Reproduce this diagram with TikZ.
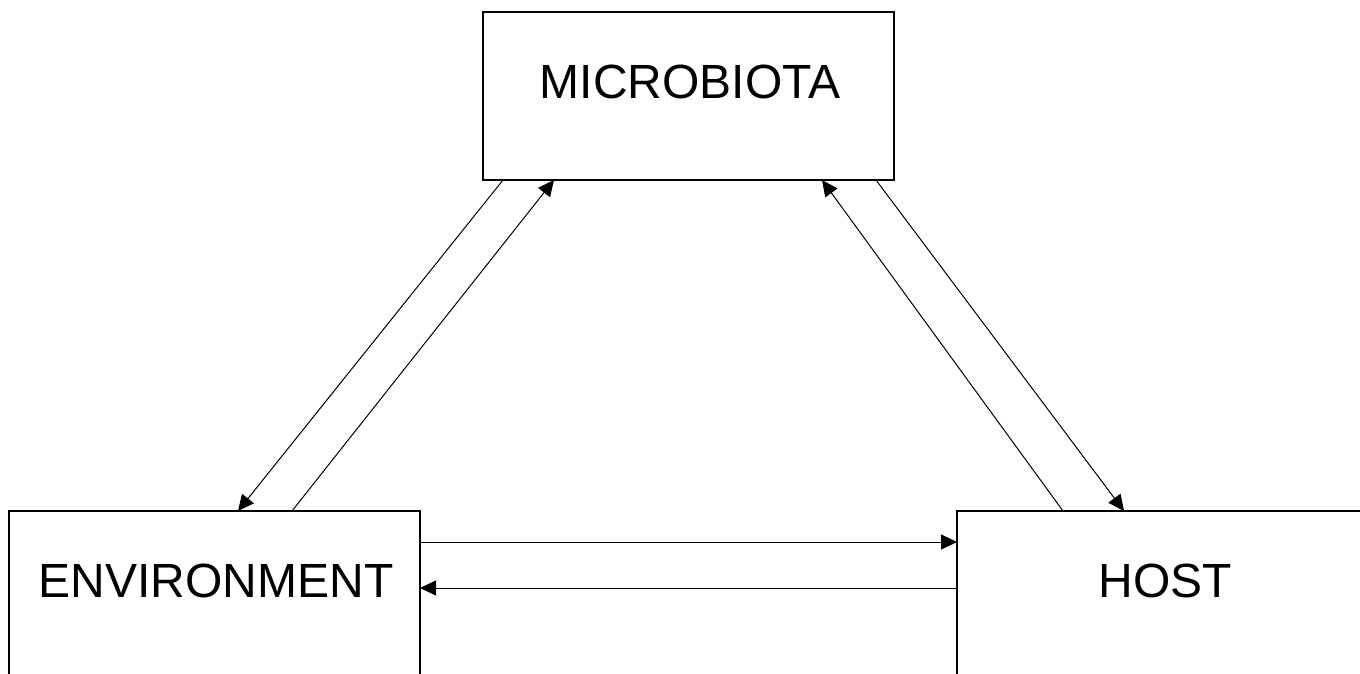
\documentclass[tikz,border=0pt]{standalone}
\usepackage{fontspec}
\setmainfont{Liberation Sans}
\usetikzlibrary{arrows.meta}
\begin{document}
\begin{tikzpicture}[x=1pt,y=-1pt,
  box/.style={draw=black,line width=1.8pt,fill=white,minimum width=411pt,minimum height=168pt,inner sep=0pt,outer sep=0pt},
  lbl/.style={font=\fontsize{48}{56}\selectfont,inner sep=0pt},
  conn/.style={line width=1pt,-{Triangle[length=16pt,width=15pt]}}]
\useasboundingbox (0,0) rectangle (1360,673);
\clip (0,0) rectangle (1360,673);
\fill[white] (0,0) rectangle (1360,673);
\node[box] (mic) at (688.5,96) {};
\node[box] (env) at (214.5,595) {};
\node[box] (host) at (1162.5,595) {};
\node[lbl] (micl) at (690,82) {MICROBIOTA};
\node[lbl] (envl) at (216,581) {ENVIRONMENT};
\node[lbl] (hostl) at (1165,581) {HOST};
% left pair
\draw[conn] ([xshift=20pt]mic.south west) -- ([xshift=229pt]env.north west);
\draw[conn] ([xshift=283pt]env.north west) -- ([xshift=71pt]mic.south west);
% right pair
\draw[conn] ([xshift=106pt]host.north west) -- ([xshift=339pt]mic.south west);
\draw[conn] ([xshift=393pt]mic.south west) -- ([xshift=167pt]host.north west);
% horizontal pair
\draw[conn] ([yshift=-31pt]env.north east) -- ([yshift=-31pt]host.north west);
\draw[conn] ([yshift=-77pt]host.north west) -- ([yshift=-77pt]env.north east);
\end{tikzpicture}
\end{document}
